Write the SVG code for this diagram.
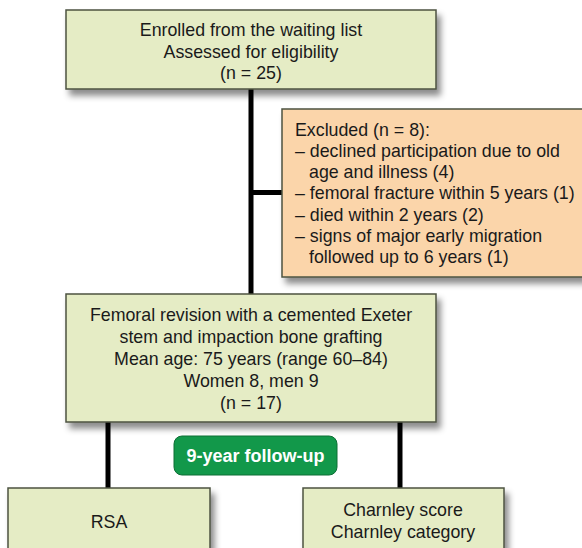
<svg xmlns="http://www.w3.org/2000/svg" width="582" height="548" viewBox="0 0 582 548">
<style>
.box{stroke:#4d5340;stroke-width:1.5}
.g{fill:#e5ecc5}
.o{fill:#fbd5aa}
.t{font-family:"Liberation Sans",Arial,sans-serif;font-size:17.8px;fill:#1a1a1a}
.c{text-anchor:middle}
.conn{stroke:#000;stroke-width:5;fill:none}
.badge-t{font-family:"Liberation Sans",Arial,sans-serif;font-size:18px;font-weight:bold;fill:#fff;text-anchor:middle}
</style>
<defs>
<filter id="sh" x="-10%" y="-10%" width="130%" height="140%">
<feDropShadow dx="4" dy="6" stdDeviation="3" flood-color="#000" flood-opacity="0.45"/>
</filter>
</defs>
<rect width="582" height="548" fill="#fff"/>
<g id="connectors">
<line class="conn" x1="251" y1="89" x2="251" y2="294"/>
<line class="conn" x1="251" y1="192.5" x2="282" y2="192.5"/>
<line class="conn" x1="108" y1="422" x2="108" y2="488"/>
<line class="conn" x1="400" y1="422" x2="400" y2="488"/>
</g>
<g id="enrolled">
<rect class="box g" x="66" y="10" width="370" height="79" filter="url(#sh)"/>
<text class="t c" x="251" y="36">Enrolled from the waiting list</text>
<text class="t c" x="251" y="58">Assessed for eligibility</text>
<text class="t c" x="251" y="79">(n = 25)</text>
</g>
<g id="excluded">
<rect class="box o" x="282" y="109" width="302" height="168" filter="url(#sh)"/>
<text class="t" x="295" y="136">Excluded (n = 8):</text>
<text class="t" x="295" y="157">– declined participation due to old</text>
<text class="t" x="309" y="178">age and illness (4)</text>
<text class="t" x="295" y="199">– femoral fracture within 5 years (1)</text>
<text class="t" x="295" y="221">– died within 2 years (2)</text>
<text class="t" x="295" y="242">– signs of major early migration</text>
<text class="t" x="309" y="263">followed up to 6 years (1)</text>
</g>
<g id="revision">
<rect class="box g" x="66" y="294" width="370" height="128" filter="url(#sh)"/>
<text class="t c" x="251" y="321">Femoral revision with a cemented Exeter</text>
<text class="t c" x="251" y="343">stem and impaction bone grafting</text>
<text class="t c" x="251" y="365">Mean age: 75 years (range 60–84)</text>
<text class="t c" x="251" y="387">Women 8, men 9</text>
<text class="t c" x="251" y="409">(n = 17)</text>
</g>
<g id="followup">
<rect x="174" y="436" width="163" height="39" rx="8" fill="#12984a" stroke="#0d6e35" stroke-width="1"/>
<text class="badge-t" x="255.5" y="462">9-year follow-up</text>
</g>
<g id="rsa">
<rect class="box g" x="8" y="488" width="202" height="80" filter="url(#sh)"/>
<text class="t c" x="109" y="528">RSA</text>
</g>
<g id="charnley">
<rect class="box g" x="303" y="488" width="201" height="80" filter="url(#sh)"/>
<text class="t c" x="403" y="516">Charnley score</text>
<text class="t c" x="403" y="538">Charnley category</text>
</g>
</svg>
